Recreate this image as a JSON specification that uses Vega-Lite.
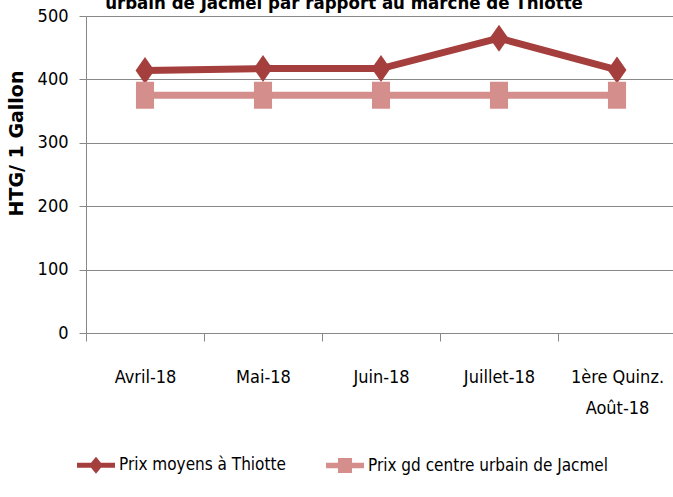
{
  "$schema": "https://vega.github.io/schema/vega-lite/v6.json",
  "autosize": {"type": "none"},
  "padding": {"left": 86, "top": 16, "right": 0, "bottom": 164},
  "width": 590,
  "height": 317,
  "background": "white",
  "title": {
    "text": "urbain de Jacmel par rapport au marché de Thiotte",
    "anchor": "middle",
    "dx": -37,
    "dy": 20,
    "baseline": "alphabetic",
    "offset": 0,
    "font": "DejaVu Sans Condensed, sans-serif",
    "fontSize": 18.5,
    "fontWeight": "bold",
    "color": "#000000"
  },
  "data": {
    "values": [
      {"mois": "Avril-18", "serie": "Prix moyens à Thiotte", "prix": 414},
      {"mois": "Mai-18", "serie": "Prix moyens à Thiotte", "prix": 417},
      {"mois": "Juin-18", "serie": "Prix moyens à Thiotte", "prix": 417},
      {"mois": "Juillet-18", "serie": "Prix moyens à Thiotte", "prix": 465},
      {"mois": "1ère Quinz. Août-18", "serie": "Prix moyens à Thiotte", "prix": 415},
      {"mois": "Avril-18", "serie": "Prix gd centre urbain de Jacmel", "prix": 375},
      {"mois": "Mai-18", "serie": "Prix gd centre urbain de Jacmel", "prix": 375},
      {"mois": "Juin-18", "serie": "Prix gd centre urbain de Jacmel", "prix": 375},
      {"mois": "Juillet-18", "serie": "Prix gd centre urbain de Jacmel", "prix": 375},
      {"mois": "1ère Quinz. Août-18", "serie": "Prix gd centre urbain de Jacmel", "prix": 375}
    ]
  },
  "encoding": {
    "x": {
      "field": "mois",
      "type": "nominal",
      "sort": ["Avril-18", "Mai-18", "Juin-18", "Juillet-18", "1ère Quinz. Août-18"],
      "scale": {"type": "band", "paddingInner": 0, "paddingOuter": 0},
      "axis": {
        "title": null,
        "labelAngle": 0,
        "labelExpr": "datum.value == '1ère Quinz. Août-18' ? ['1ère Quinz.', 'Août-18'] : datum.value",
        "labelBaseline": "alphabetic",
        "labelPadding": 41,
        "labelLineHeight": 31,
        "labelFont": "DejaVu Sans Condensed, sans-serif",
        "labelFontSize": 18,
        "labelColor": "#000000",
        "tickBand": "extent",
        "tickSize": 8,
        "tickColor": "#888888",
        "domainColor": "#888888",
        "grid": false
      }
    },
    "y": {
      "field": "prix",
      "type": "quantitative",
      "scale": {"domain": [0, 500], "nice": false},
      "axis": {
        "title": "HTG/ 1 Gallon",
        "titleFont": "DejaVu Sans, sans-serif",
        "titleFontSize": 19,
        "titleFontWeight": "bold",
        "titleColor": "#000000",
        "titleX": -70,
        "titleY": 127,
        "titleAnchor": "middle",
        "titleBaseline": "middle",
        "values": [0, 100, 200, 300, 400, 500],
        "labelFont": "DejaVu Sans Condensed, sans-serif",
        "labelFontSize": 18,
        "labelColor": "#000000",
        "labelPadding": 11,
        "tickSize": 7,
        "tickColor": "#888888",
        "domainColor": "#888888",
        "grid": true,
        "gridColor": "#888888",
        "gridWidth": 1
      }
    },
    "color": {
      "field": "serie",
      "type": "nominal",
      "scale": {
        "domain": ["Prix moyens à Thiotte", "Prix gd centre urbain de Jacmel"],
        "range": ["#A43F3D", "#D48E8C"]
      },
      "legend": {
        "title": null,
        "orient": "none",
        "direction": "horizontal",
        "legendX": -9,
        "legendY": 430,
        "padding": 0,
        "columnPadding": 40,
        "symbolSize": 1444,
        "labelOffset": 4,
        "labelFont": "DejaVu Sans Condensed, sans-serif",
        "labelFontSize": 17,
        "labelColor": "#000000",
        "labelLimit": 400,
        "encode": {
          "symbols": {
            "update": {
              "shape": {"signal": "datum.index === 0 ? 'M-1,-0.13H-0.26L0,-0.45L0.26,-0.13H1V0.13H0.26L0,0.45L-0.26,0.13H-1Z' : 'M-1,-0.14H-0.37V-0.4H0.37V-0.14H1V0.14H0.37V0.4H-0.37V0.14H-1Z'"},
              "fill": {"signal": "scale('color', datum.value)"},
              "fillOpacity": {"value": 1},
              "opacity": {"value": 1},
              "strokeWidth": {"value": 0},
              "size": {"value": 1444}
            }
          }
        }
      }
    }
  },
  "layer": [
    {
      "mark": {"type": "line", "strokeWidth": 7},
      "encoding": {}
    },
    {
      "transform": [{"filter": "datum.serie === 'Prix moyens à Thiotte'"}],
      "mark": {"type": "point", "filled": true, "opacity": 1, "size": 729, "shape": "M0,-1L0.7,0L0,1L-0.7,0Z"},
      "encoding": {}
    },
    {
      "transform": [{"filter": "datum.serie === 'Prix gd centre urbain de Jacmel'"}],
      "mark": {"type": "point", "filled": true, "opacity": 1, "size": 729, "shape": "M-0.67,-1H0.67V1H-0.67Z"},
      "encoding": {}
    }
  ]
}
